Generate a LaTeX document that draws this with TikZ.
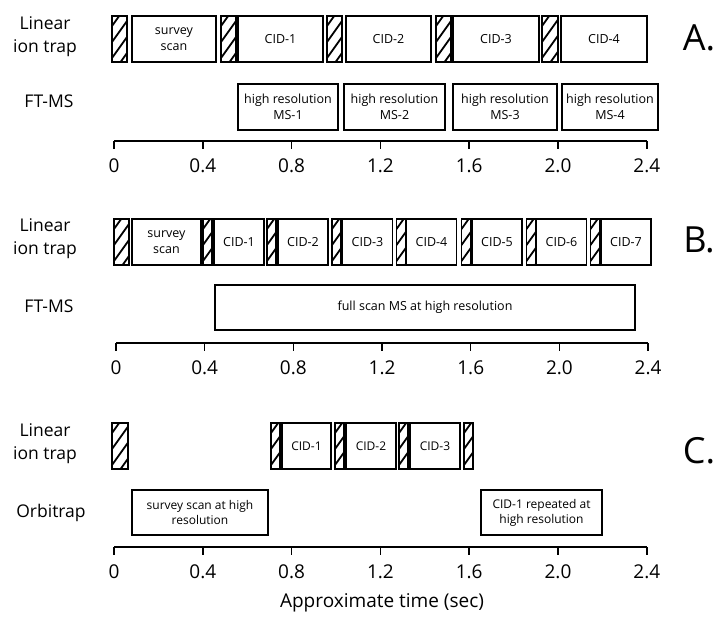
\documentclass[tikz,border=0pt]{standalone}
\usepackage{fontspec}
\setmainfont{Open Sans}
\usepackage{tikz}
\usetikzlibrary{positioning}

\begin{document}
\begin{tikzpicture}[x=1pt, y=-1pt,
        cell/.style={draw, line width=1.5pt, rectangle, inner sep=0pt, minimum height=46pt, align=center, font=\fontsize{12.5}{15.5}\selectfont},
        smallcell/.style={cell, font=\fontsize{12}{15}\selectfont},
        hatchcell/.style={draw, line width=1.5pt, rectangle, inner sep=0pt, minimum height=46pt,
            path picture={\foreach \k in {0,...,4}
                \draw[line width=1.8pt] ([yshift=\k*16pt-12pt]path picture bounding box.south west) -- ++(20pt,28pt);}},
        rowlabel/.style={align=center, font=\fontsize{17.5}{23}\selectfont},
        ticklabel/.style={font=\fontsize{19}{22}\selectfont},
        panel/.style={font=\fontsize{36}{38}\selectfont}
    ]
        \useasboundingbox (0,0) rectangle (715,616);

        % panel A
        \node[rowlabel] (a-lit) at (45,37) {Linear\\ion trap};
        \node[rowlabel] (a-ft) at (49,101) {FT-MS};
        \node[panel] (a-tag) at (699,38) {A.};

        \node[hatchcell, minimum width=15pt] (a-h1) at (119.5,39) {};
        \node[cell, minimum width=84pt] (a-survey) at (174,39) {survey\\scan};
        \node[hatchcell, minimum width=15pt] (a-h2) at (228.5,39) {};
        \node[cell, minimum width=85pt] (a-cid1) at (280.5,39) {CID-1};
        \node[hatchcell, minimum width=15pt] (a-h3) at (334.5,39) {};
        \node[cell, minimum width=85pt] (a-cid2) at (388.5,39) {CID-2};
        \node[hatchcell, minimum width=15pt] (a-h4) at (443.5,39) {};
        \node[cell, minimum width=86pt] (a-cid3) at (496,39) {CID-3};
        \node[hatchcell, minimum width=16pt] (a-h5) at (550,39) {};
        \node[cell, minimum width=86pt] (a-cid4) at (604,39) {CID-4};

        \node[cell, minimum width=100pt] (a-ms1) at (288,107) {high resolution\\MS-1};
        \node[cell, minimum width=101pt] (a-ms2) at (394.5,107) {high resolution\\MS-2};
        \node[cell, minimum width=104pt] (a-ms3) at (505,107) {high resolution\\MS-3};
        \node[cell, minimum width=96pt] (a-ms4) at (610,107) {high resolution\\MS-4};

        \draw[line width=1.5pt] (114,141) -- (647,141);
        \foreach \t in {0,0.4,0.8,1.2,1.6,2.0,2.4}
            \draw[line width=1.5pt] (114+\t*222,141) -- ++(0,8) node[ticklabel, below=6pt] {\t};

        % panel B
        \node[rowlabel] (b-lit) at (45,239) {Linear\\ion trap};
        \node[rowlabel] (b-ft) at (49,306) {FT-MS};
        \node[panel] (b-tag) at (699,240) {B.};

        \node[hatchcell, minimum width=15pt] (b-h0) at (121.5,242) {};
        \node[cell, minimum width=69pt] (b-survey) at (166.5,242) {survey\\scan};
        \node[hatchcell, minimum width=9pt] (b-h1) at (207.5,242) {};
        \node[cell, minimum width=50pt] (b-cid1) at (239,242) {CID-1};
        \node[hatchcell, minimum width=9pt] (b-h2) at (271.5,242) {};
        \node[cell, minimum width=50pt] (b-cid2) at (303,242) {CID-2};
        \node[hatchcell, minimum width=9pt] (b-h3) at (336.5,242) {};
        \node[cell, minimum width=50pt] (b-cid3) at (367.5,242) {CID-3};
        \node[hatchcell, minimum width=9pt] (b-h4) at (401,242) {};
        \node[cell, minimum width=50pt] (b-cid4) at (431.5,242) {CID-4};
        \node[hatchcell, minimum width=9pt] (b-h5) at (466,242) {};
        \node[cell, minimum width=50pt] (b-cid5) at (497,242) {CID-5};
        \node[hatchcell, minimum width=9pt] (b-h6) at (531,242) {};
        \node[cell, minimum width=50pt] (b-cid6) at (561.5,242) {CID-6};
        \node[hatchcell, minimum width=9pt] (b-h7) at (595,242) {};
        \node[cell, minimum width=50pt] (b-cid7) at (626,242) {CID-7};

        \node[cell, minimum width=420pt, minimum height=45pt] (b-full) at (425,307.5) {full scan MS at high resolution};

        \draw[line width=1.5pt] (116,343) -- (648,343);
        \foreach \t in {0,0.4,0.8,1.2,1.6,2.0,2.4}
            \draw[line width=1.5pt] (116+\t*221.7,343) -- ++(0,8) node[ticklabel, below=6pt] {\t};

        % panel C
        \node[rowlabel] (c-lit) at (45,444) {Linear\\ion trap};
        \node[rowlabel] (c-orbi) at (51,513) {Orbitrap};
        \node[panel] (c-tag) at (699,451) {C.};

        \node[hatchcell, minimum width=16pt] (c-h0) at (120,446) {};
        \node[hatchcell, minimum width=9pt] (c-h1) at (275.5,446) {};
        \node[smallcell, minimum width=49pt] (c-cid1) at (306.5,446) {CID-1};
        \node[hatchcell, minimum width=9pt] (c-h2) at (339.5,446) {};
        \node[smallcell, minimum width=50pt] (c-cid2) at (371,446) {CID-2};
        \node[hatchcell, minimum width=9pt] (c-h3) at (403.5,446) {};
        \node[smallcell, minimum width=50pt] (c-cid3) at (435,446) {CID-3};
        \node[hatchcell, minimum width=9pt] (c-h4) at (468.5,446) {};

        \node[smallcell, minimum width=136pt, minimum height=45pt] (c-survey) at (200,512.5) {survey scan at high\\resolution};
        \node[smallcell, minimum width=121pt, minimum height=45pt] (c-repeat) at (541.5,512.5) {CID-1 repeated at\\high resolution};

        \draw[line width=1.5pt] (114,547) -- (647,547);
        \foreach \t in {0,0.4,0.8,1.2,1.6,2.0,2.4}
            \draw[line width=1.5pt] (114+\t*222,547) -- ++(0,8) node[ticklabel, below=6pt] {\t};

        \node[ticklabel] (xlabel) at (382,603) {Approximate time (sec)};
    \end{tikzpicture}
\end{document}
